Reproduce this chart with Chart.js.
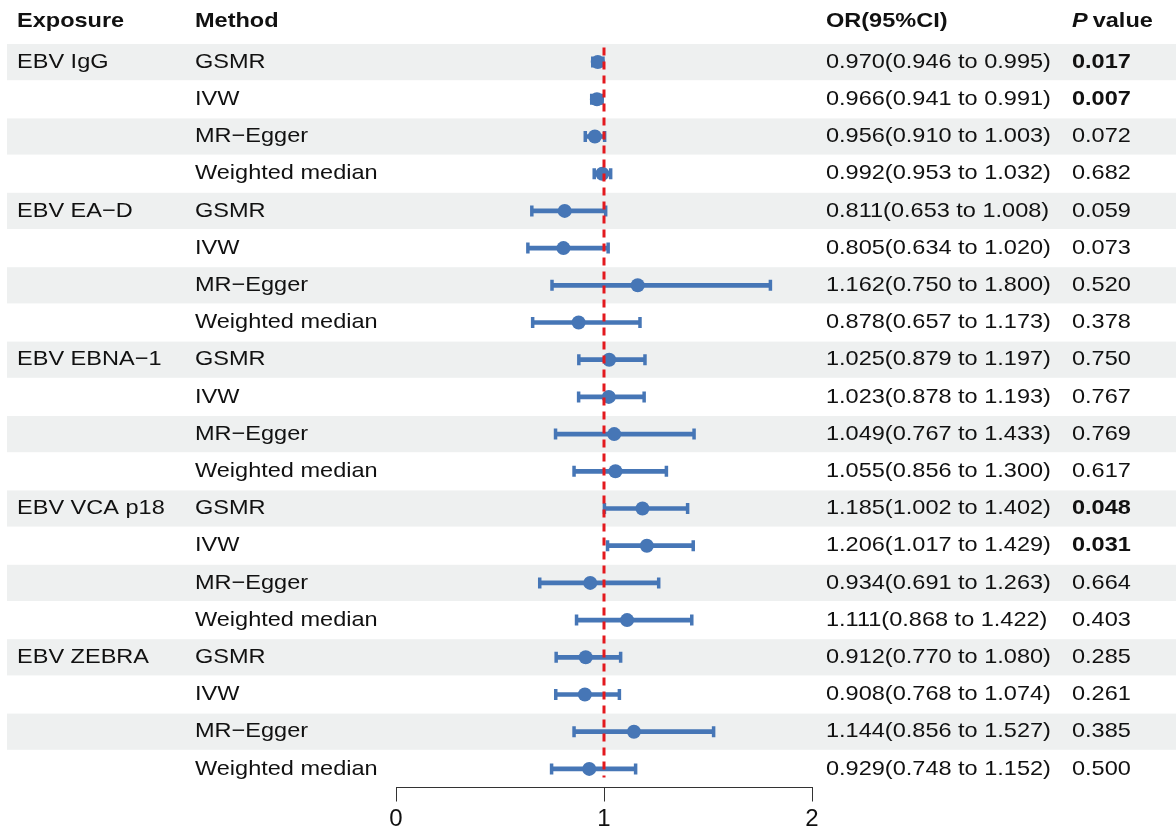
<!DOCTYPE html>
<html>
<head>
<meta charset="utf-8">
<script src="https://cdn.jsdelivr.net/npm/chart.js@4.4.1/dist/chart.umd.min.js"></script>
<style>
  html, body { margin: 0; padding: 0; background: #fff; }
  canvas { display: block; }
</style>
</head>
<body>
<canvas id="forest" width="1176" height="832"></canvas>
<script>
// data
var exposures = ['EBV IgG', 'EBV EA\u2212D', 'EBV EBNA\u22121', 'EBV VCA p18', 'EBV ZEBRA'];
var methods = ['GSMR', 'IVW', 'MR\u2212Egger', 'Weighted median'];

var orValues = [0.970, 0.966, 0.956, 0.992,
                0.811, 0.805, 1.162, 0.878,
                1.025, 1.023, 1.049, 1.055,
                1.185, 1.206, 0.934, 1.111,
                0.912, 0.908, 1.144, 0.929];
var lowerCI = [0.946, 0.941, 0.910, 0.953,
               0.653, 0.634, 0.750, 0.657,
               0.879, 0.878, 0.767, 0.856,
               1.002, 1.017, 0.691, 0.868,
               0.770, 0.768, 0.856, 0.748];
var upperCI = [0.995, 0.991, 1.003, 1.032,
               1.008, 1.020, 1.800, 1.173,
               1.197, 1.193, 1.433, 1.300,
               1.402, 1.429, 1.263, 1.422,
               1.080, 1.074, 1.527, 1.152];
var pValues = ['0.017', '0.007', '0.072', '0.682',
               '0.059', '0.073', '0.520', '0.378',
               '0.750', '0.767', '0.769', '0.617',
               '0.048', '0.031', '0.664', '0.403',
               '0.285', '0.261', '0.385', '0.500'];
var xTicks = [0, 1, 2];

var rowLabels = [];
exposures.forEach(function(e) {
	methods.forEach(function(m) { rowLabels.push(e + ' | ' + m); });
});

var BLUE = '#4676B6';
var FONT = '"Liberation Sans", Arial, Helvetica, sans-serif';
var STRETCH = 1.12;

function stretchedText(ctx, s, x, y, font) {
	ctx.save();
	ctx.font = font;
	ctx.translate(x, y);
	ctx.scale(STRETCH, 1);
	ctx.fillText(s, 0, 0);
	var w = ctx.measureText(s).width * STRETCH;
	ctx.restore();
	return w;
}

var tablePlugin = {
	id: 'forestTable',
	beforeDraw: function(chart) {
		var ctx = chart.ctx, y = chart.scales.y;
		ctx.save();
		ctx.fillStyle = '#fff';
		ctx.fillRect(0, 0, chart.width, chart.height);
		var band = y.height / rowLabels.length;
		ctx.fillStyle = '#EEF0F0';
		for (var i = 0; i < rowLabels.length; i += 2) {
			var cy = y.getPixelForValue(i);
			ctx.fillRect(7, cy - band / 2 + 0.5, chart.width - 7, band - 1);
		}
		ctx.restore();
	},
	afterDatasetsDraw: function(chart) {
		// dashed reference line at OR = 1
		var ctx = chart.ctx, x = chart.scales.x, a = chart.chartArea;
		var px = x.getPixelForValue(1);
		ctx.save();
		ctx.strokeStyle = '#E3191E';
		ctx.lineWidth = 3;
		ctx.setLineDash([8, 6]);
		ctx.beginPath();
		ctx.moveTo(px, a.top + 4);
		ctx.lineTo(px, a.bottom - 10);
		ctx.stroke();
		ctx.restore();
	},
	afterDraw: function(chart) {
		var ctx = chart.ctx, y = chart.scales.y;
		var reg = '21px ' + FONT, bold = 'bold 21px ' + FONT;
		ctx.save();
		ctx.fillStyle = '#111';
		ctx.textBaseline = 'middle';
		ctx.textAlign = 'left';
		var hy = 21;
		stretchedText(ctx, 'Exposure', 17, hy, bold);
		stretchedText(ctx, 'Method', 195, hy, bold);
		stretchedText(ctx, 'OR(95%CI)', 826, hy, bold);
		var pw = stretchedText(ctx, 'P', 1072, hy, 'italic bold 21px ' + FONT);
		stretchedText(ctx, 'value', 1072 + pw + 5, hy, bold);

		for (var i = 0; i < rowLabels.length; i++) {
			var cy = y.getPixelForValue(i);
			if (i % 4 === 0) stretchedText(ctx, exposures[i / 4], 17, cy, reg);
			stretchedText(ctx, methods[i % 4], 195, cy, reg);
			var txt = orValues[i].toFixed(3) + '(' + lowerCI[i].toFixed(3) + ' to ' + upperCI[i].toFixed(3) + ')';
			stretchedText(ctx, txt, 826, cy, reg);
			var sig = parseFloat(pValues[i]) < 0.05;
			stretchedText(ctx, pValues[i], 1072, cy, sig ? bold : reg);
		}
		ctx.restore();
	}
};

var capPoints = [];
lowerCI.forEach(function(v, i) { capPoints.push({x: v, y: rowLabels[i]}); });
upperCI.forEach(function(v, i) { capPoints.push({x: v, y: rowLabels[i]}); });

var ctx = document.getElementById('forest');
var forestChart = new Chart(ctx, {
	type: 'bar',
	data: {
		labels: rowLabels,
		datasets: [{
			type: 'bar',
			label: 'CI',
			indexAxis: 'y',
			data: lowerCI.map(function(l, i) { return [l, upperCI[i]]; }),
			backgroundColor: BLUE,
			barThickness: 4,
			order: 3
		}, {
			type: 'scatter',
			label: 'caps',
			data: capPoints,
			pointStyle: 'line',
			rotation: 90,
			radius: 5.5,
			borderColor: BLUE,
			borderWidth: 3.5,
			order: 2
		}, {
			type: 'scatter',
			label: 'OR',
			data: orValues.map(function(v, i) { return {x: v, y: rowLabels[i]}; }),
			pointStyle: 'circle',
			radius: 7,
			backgroundColor: BLUE,
			borderColor: BLUE,
			borderWidth: 0,
			order: 1
		}]
	},
	options: {
		responsive: false,
		animation: false,
		layout: { padding: { left: 396, right: 364, top: 43.5, bottom: 0 } },
		plugins: {
			legend: { display: false },
			tooltip: { enabled: false }
		},
		scales: {
			x: {
				type: 'linear',
				position: 'bottom',
				min: 0,
				max: 2,
				offset: false,
				afterBuildTicks: function(s) { s.ticks = xTicks.map(function(v) { return {value: v}; }); },
				ticks: { color: '#111', font: { size: 24, family: FONT }, padding: 3 },
				grid: { offset: false, drawOnChartArea: false, drawTicks: true, tickLength: 14, color: '#333', lineWidth: 1 },
				border: { display: true, color: '#333', width: 1 },
				afterFit: function(s) { s.height = 44.5; }
			},
			y: {
				type: 'category',
				display: false,
				offset: true
			}
		}
	},
	plugins: [tablePlugin]
});
</script>
</body>
</html>
